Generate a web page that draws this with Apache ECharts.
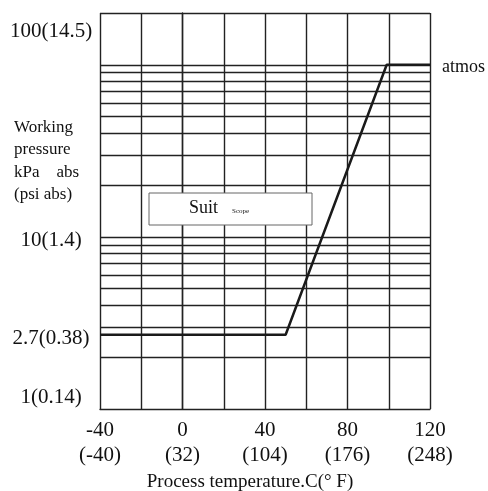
<!DOCTYPE html>
<html>
<head>
<meta charset="utf-8">
<script src="https://cdn.jsdelivr.net/npm/echarts@6/dist/echarts.min.js"></script>
<style>
  html, body { margin: 0; padding: 0; background: #fff; }
  #main { width: 488px; height: 491px; }
</style>
</head>
<body>
<div id="main"></div>
<script>
// process temperature (C) and working pressure (kPa abs)
var tempC = [-40, 50, 99, 120];
var pressure = [2.7, 2.7, 100, 100];

// log grid lines on pressure axis
var gridLines = [2, 3, 4, 5, 6, 7, 8, 9, 10, 20, 30, 40, 50, 60, 70, 80, 90, 100, 200];

// tick labels
var xTickC = [-40, 0, 40, 80, 120];
var xTickF = ['(-40)', '(32)', '(104)', '(176)', '(248)'];
var yTickLabels = ['100(14.5)', '10(1.4)', '2.7(0.38)', '1(0.14)'];

var serif = "'Liberation Serif', 'Times New Roman', serif";
var ink = '#111';
var gridColor = '#222';

var chart = echarts.init(document.getElementById('main'));

var lineData = tempC.map(function (t, i) { return [t, pressure[i]]; });

var yLabelY = [31, 240, 338, 397];

var option = {
    animation: false,
    backgroundColor: '#fff',
    grid: { left: 100, right: 58, top: 13, bottom: 82, outerBoundsMode: 'none', containLabel: false },
    xAxis: {
        type: 'value',
        min: -40,
        max: 120,
        interval: 20,
        axisLine: { show: true, lineStyle: { color: gridColor, width: 1.4 } },
        axisTick: { show: false },
        splitLine: { show: true, lineStyle: { color: gridColor, width: 1.4 } },
        axisLabel: {
            margin: 9,
            color: ink,
            fontFamily: serif,
            fontSize: 21,
            lineHeight: 25,
            formatter: function (v) {
                var i = xTickC.indexOf(v);
                if (i < 0) return '';
                return v + '\n' + xTickF[i];
            }
        },
        name: 'Process temperature.C(° F)',
        nameLocation: 'middle',
        nameGap: 63,
        nameTextStyle: { color: ink, fontFamily: serif, fontSize: 19, padding: [0, 30, 0, 0] }
    },
    yAxis: {
        type: 'log',
        logBase: 10,
        min: 1,
        max: 200,
        axisLine: { show: true, lineStyle: { color: gridColor, width: 1.4 } },
        axisTick: { show: false },
        axisLabel: { show: false },
        splitLine: { show: false }
    },
    series: [
        {
            type: 'line',
            data: [],
            z: 1,
            silent: true,
            markLine: {
                silent: true,
                symbol: ['none', 'none'],
                label: { show: false },
                lineStyle: { color: gridColor, width: 1.4, type: 'solid' },
                data: gridLines.map(function (v) { return { yAxis: v }; })
            }
        },
        {
            type: 'line',
            data: lineData,
            z: 5,
            symbol: 'none',
            lineStyle: { color: '#1a1a1a', width: 2.5 }
        }
    ],
    graphic: [
        {
            type: 'rect', z: 100,
            shape: { x: 149, y: 193, width: 163, height: 32 },
            style: { fill: '#fff', stroke: '#666', lineWidth: 1 }
        },
        {
            type: 'text', z: 101, left: 189, top: 199,
            style: { text: 'Suit', fill: ink, font: '18px ' + serif }
        },
        {
            type: 'text', z: 101, left: 232, top: 208,
            style: { text: 'Scope', fill: ink, font: '7px ' + serif }
        },
        {
            type: 'text', z: 101, left: 442, top: 58,
            style: { text: 'atmos', fill: ink, font: '18px ' + serif }
        },
        {
            type: 'text', z: 101, left: 14, top: 116,
            style: {
                text: 'Working\npressure\nkPa    abs\n(psi abs)',
                fill: ink, font: '17px ' + serif, lineHeight: 22.5
            }
        }
    ].concat(yTickLabels.map(function (s, i) {
        return {
            type: 'text', z: 101, x: 51, y: yLabelY[i],
            style: {
                text: s, fill: ink, font: '21px ' + serif,
                align: 'center', verticalAlign: 'middle'
            }
        };
    }))
};

chart.setOption(option);
</script>
</body>
</html>
